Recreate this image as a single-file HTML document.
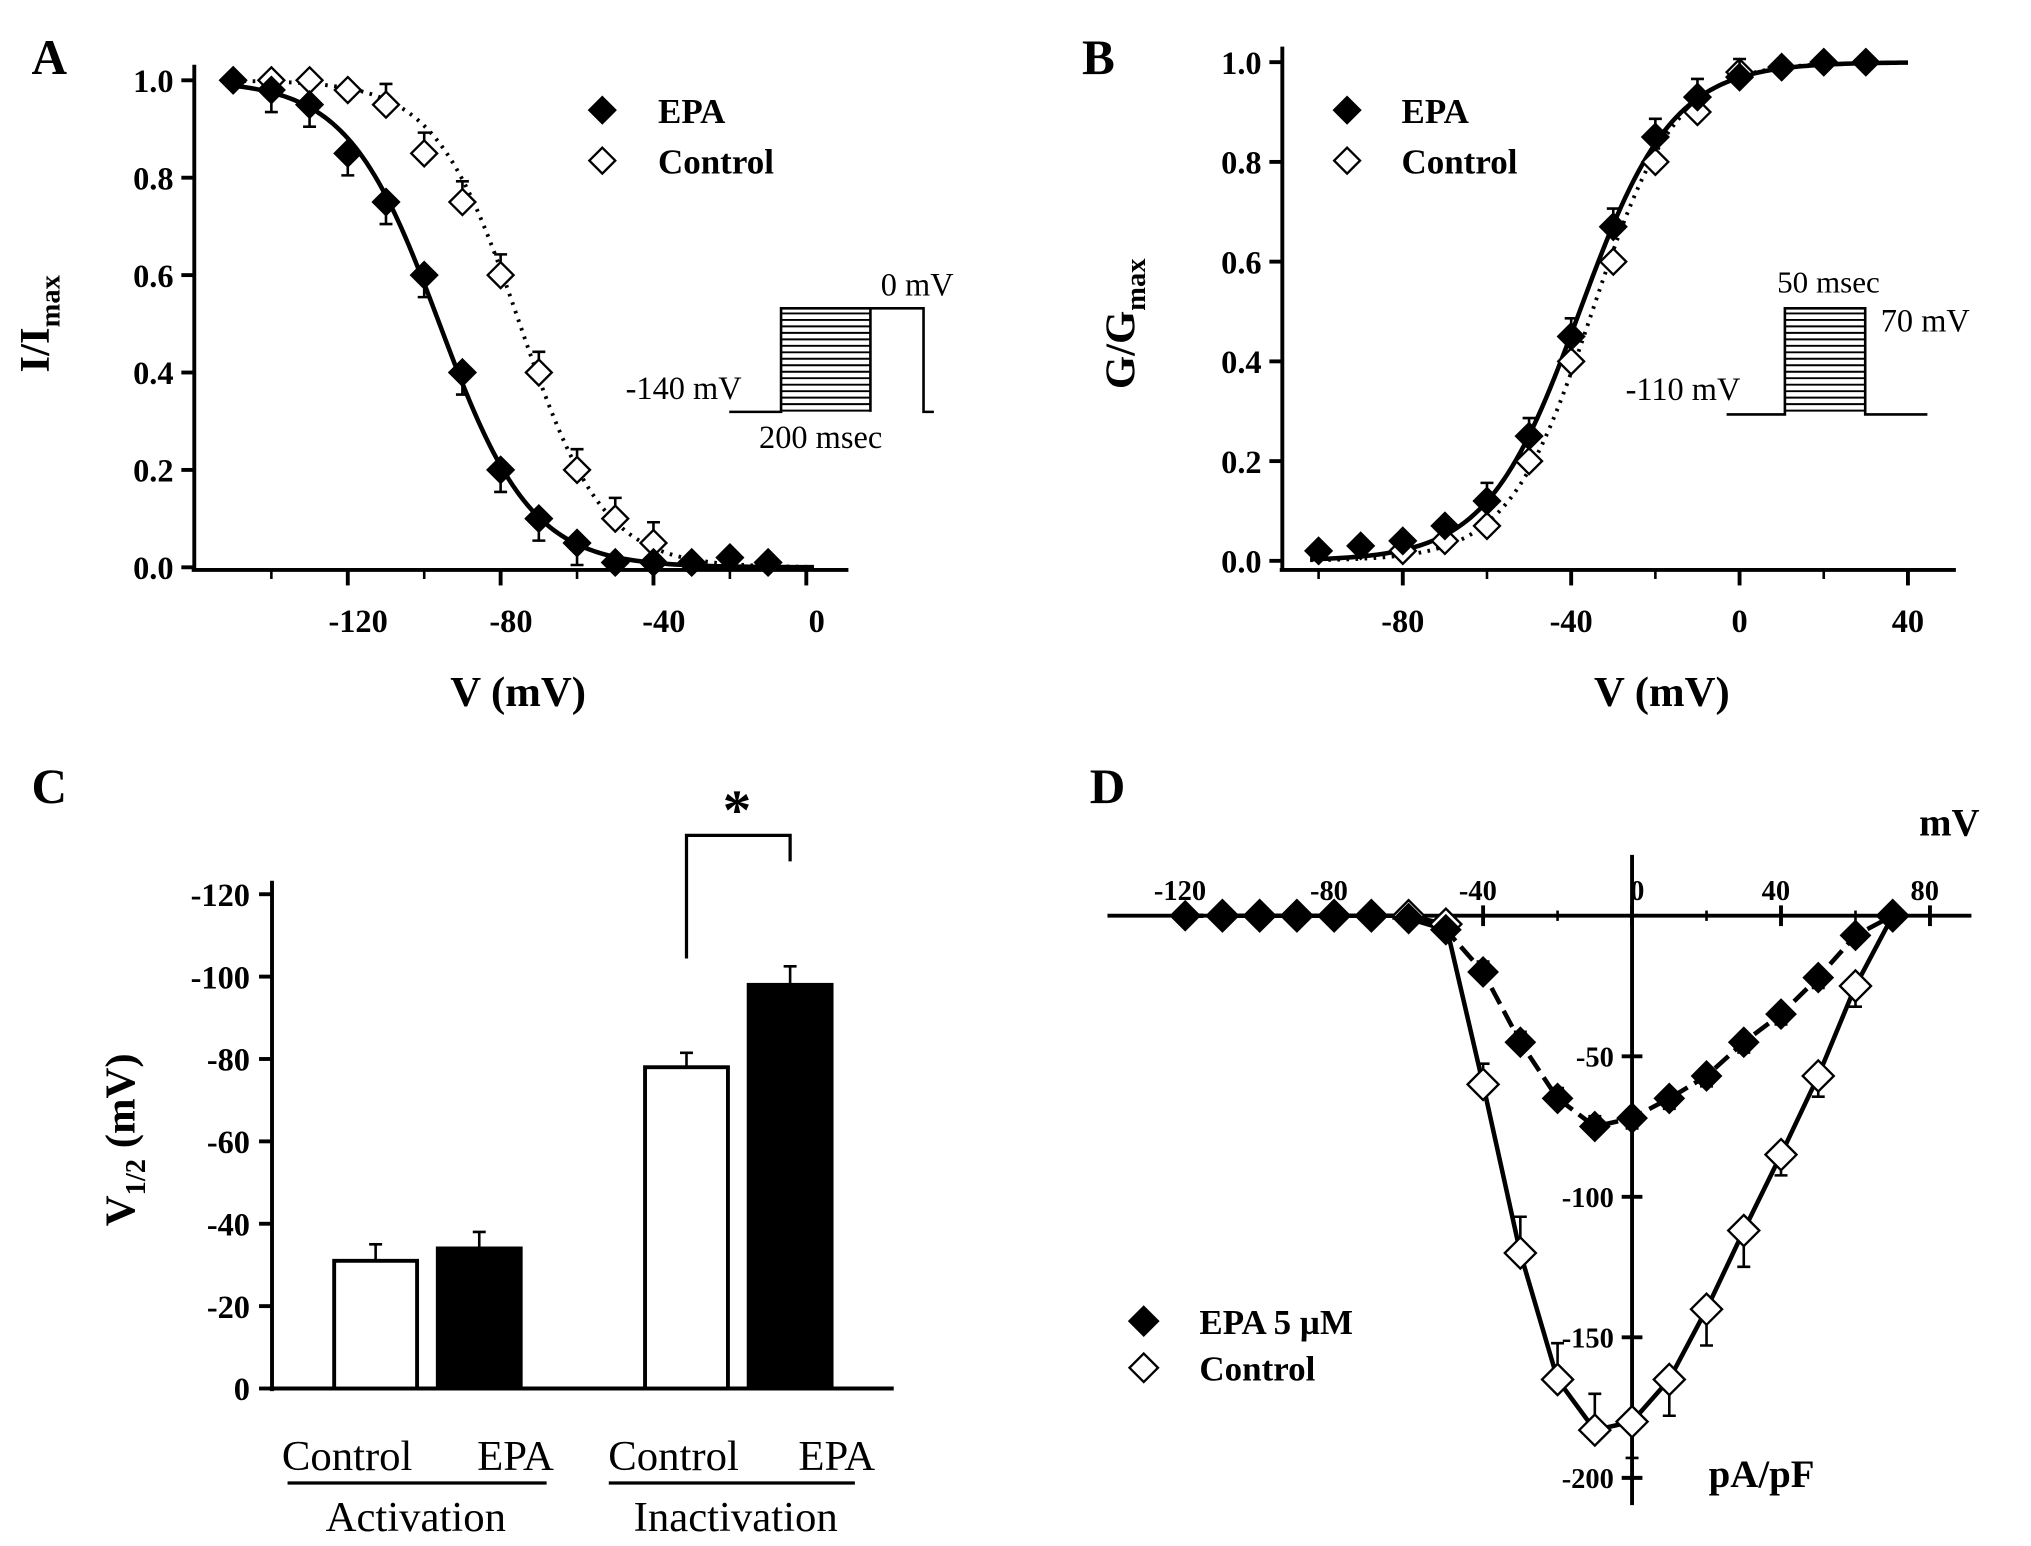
<!DOCTYPE html>
<html><head><meta charset="utf-8"><style>
html,body{margin:0;padding:0;background:#fff}
svg{display:block}
text{font-family:"Liberation Serif","DejaVu Serif",serif;fill:#000}
.b{font-weight:bold}
</style></head><body>
<svg id="fig" width="2031" height="1546" viewBox="0 0 1568 1193.6" preserveAspectRatio="none" xmlns="http://www.w3.org/2000/svg">
<g id="root"></g>
</svg>
<script>
// Panel A data
const aV=[-150,-140,-130,-120,-110,-100,-90,-80,-70,-60,-50,-40,-30,-20,-10];
const aEPA=[1.0,0.98,0.95,0.85,0.75,0.6,0.4,0.2,0.1,0.05,0.01,0.01,0.01,0.02,0.01];
const aCtlV=[-140,-130,-120,-110,-100,-90,-80,-70,-60,-50,-40];
const aCtl=[1.0,1.0,0.98,0.95,0.85,0.75,0.6,0.4,0.2,0.1,0.05];
const aXTicks=[-120,-80,-40,0];
const aYTicks=[0,0.2,0.4,0.6,0.8,1.0];
// Panel B data
const bV=[-100,-90,-80,-70,-60,-50,-40,-30,-20,-10,0,10,20,30];
const bEPA=[0.02,0.03,0.04,0.07,0.12,0.25,0.45,0.67,0.85,0.93,0.97,0.99,1.0,1.0];
const bCtlV=[-80,-70,-60,-50,-40,-30,-20,-10,0];
const bCtl=[0.02,0.04,0.07,0.2,0.4,0.6,0.8,0.9,0.98];
const bXTicks=[-80,-40,0,40];
const bYTicks=[0,0.2,0.4,0.6,0.8,1.0];
// Panel C data
const cVals=[31,34,78,98];
const cErr=[4,4,3.5,4.5];
const cFill=['#fff','#000','#fff','#000'];
const cYTicks=[0,-20,-40,-60,-80,-100,-120];
// Panel D data
const dV=[-120,-110,-100,-90,-80,-70,-60,-50,-40,-30,-20,-10,0,10,20,30,40,50,60,70];
const dEPA=[0,0,0,0,0,0,-1,-5,-20,-45,-65,-75,-72,-65,-57,-45,-35,-22,-7,0];
const dCtlV=[-110,-100,-90,-80,-70,-60,-50,-40,-30,-20,-10,0,10,20,30,40,50,60,70];
const dCtl=[0,0,0,0,0,0,-3,-60,-120,-165,-183,-180,-165,-140,-112,-85,-57,-25,0];
const dXTicks=[-120,-80,-40,0,40,80];
const dYTicks=[-50,-100,-150,-200];

const NS='http://www.w3.org/2000/svg';
const root=document.getElementById('root');
function el(tag,attrs,parent,txt){const e=document.createElementNS(NS,tag);for(const k in attrs)e.setAttribute(k,attrs[k]);if(txt!==undefined)e.textContent=txt;(parent||root).appendChild(e);return e;}
function T(x,y,s,size,anchor,name,bold){const t=el('text',{x:x,y:y,'font-size':size,'text-anchor':anchor||'middle'},null,s);if(bold!==false)t.setAttribute('class','b');

return t;}
function L(x1,y1,x2,y2,w,name,dash){const l=el('line',{x1:x1,y1:y1,x2:x2,y2:y2,stroke:'#000','stroke-width':w||3});if(dash)l.setAttribute('stroke-dasharray',dash);

return l;}
function diamond(x,y,r,filled,name){const p=el('polygon',{points:`${x},${y-r} ${x+r},${y} ${x},${y+r} ${x-r},${y}`,fill:filled?'#000':'#fff',stroke:'#000','stroke-width':1.8});

return p;}
function errbar(x,y1,y2,name){const g=el('path',{d:`M${x},${y1}L${x},${y2}M${x-5},${y2}L${x+5},${y2}`,stroke:'#000','stroke-width':2,fill:'none'});

}
function curve(pts,dash,w,name){const p=el('path',{d:'M'+pts.map(p=>p.join(',')).join('L'),fill:'none',stroke:'#000','stroke-width':w});if(dash)p.setAttribute('stroke-dasharray',dash);

}
const boltz=(v,h,k)=>1/(1+Math.exp((v-h)/k));

// ---------- Panel A ----------
const ax=v=>180+2.95*(v+150), ay=f=>438-376*f;
T(38,57,'A',38,'middle','panel-a-label');
L(150,50,150,441,3,'a-y-axis');L(148,440,655,440,3,'a-x-axis');
aYTicks.forEach(t=>{L(140,ay(t),150,ay(t),3,'a-y-tick');T(134,ay(t)+9,t.toFixed(1),25,'end','a-y-tick-label');});
aXTicks.forEach(t=>{L(ax(t),440,ax(t),452,3,'a-x-tick');T(ax(t)+8,488,t,25,'middle','a-x-tick-label');});
[-140,-100,-60,-20].forEach(t=>L(ax(t),440,ax(t),447,2,'a-x-minor-tick'));
T(400,545,'V (mV)',33,'middle','a-x-axis-title');
const yt=el('text',{transform:'translate(38,250) rotate(-90)','font-size':33,'text-anchor':'middle',class:'b'});


yt.innerHTML='I/I<tspan font-size="22" dy="8">max</tspan>';
let pts=[];for(let v=-152;v<=2;v+=1)pts.push([ax(v),ay(boltz(v,-96,12))]);curve(pts,null,3.5,'a-epa-fit');
pts=[];for(let v=-152;v<=2;v+=1)pts.push([ax(v),ay(boltz(v,-75,11))]);curve(pts,'2,5',3,'a-control-fit');
aCtlV.forEach((v,i)=>{if(aCtl[i]<0.97)errbar(ax(v),ay(aCtl[i]),ay(aCtl[i])-16,'a-control-error');diamond(ax(v),ay(aCtl[i]),10,false,'a-control-point');});
aV.forEach((v,i)=>{if(aEPA[i]<0.99&&aEPA[i]>0.03)errbar(ax(v),ay(aEPA[i]),ay(aEPA[i])+17,'a-epa-error');diamond(ax(v),ay(aEPA[i]),10,true,'a-epa-point');});
diamond(465,85,10,true,'a-legend-epa-marker');T(508,95,'EPA',27,'start','a-legend-epa');
diamond(465,124,10,false,'a-legend-control-marker');T(508,134,'Control',27,'start','a-legend-control');
// protocol inset A
el('path',{d:'M563,318L603,318L603,238L672,238L672,318M672,238L713,238L713,318L721,318',fill:'none',stroke:'#000','stroke-width':2});
for(let y=242;y<318;y+=5)L(603,y,672,y,1.5,'a-protocol-step');
T(680,228,'0 mV',25,'start','a-protocol-0mv',false);
T(483,308,'-140 mV',25,'start','a-protocol-140mv',false);
T(586,346,'200 msec',25,'start','a-protocol-200msec',false);

// ---------- Panel B ----------
const bx=v=>1343+3.25*v, by=f=>433-385*f;
T(848,57,'B',38,'middle','panel-b-label');
L(990,36,990,441,3,'b-y-axis');L(988,440,1510,440,3,'b-x-axis');
bYTicks.forEach(t=>{L(980,by(t),990,by(t),3,'b-y-tick');T(974,by(t)+9,t.toFixed(1),25,'end','b-y-tick-label');});
bXTicks.forEach(t=>{L(bx(t),440,bx(t),452,3,'b-x-tick');T(bx(t),488,t,25,'middle','b-x-tick-label');});
[-100,-60,-20,20].forEach(t=>L(bx(t),440,bx(t),447,2,'b-x-minor-tick'));
T(1283,545,'V (mV)',33,'middle','b-x-axis-title');
const yt2=el('text',{transform:'translate(876,250) rotate(-90)','font-size':33,'text-anchor':'middle',class:'b'});


yt2.innerHTML='G/G<tspan font-size="22" dy="8">max</tspan>';
pts=[];for(let v=-102;v<=40;v+=1)pts.push([bx(v),by(1-boltz(v,-38,11))]);curve(pts,null,3.5,'b-epa-fit');
pts=[];for(let v=-102;v<=40;v+=1)pts.push([bx(v),by(1-boltz(v,-35,10))]);curve(pts,'2,5',3,'b-control-fit');
bCtlV.forEach((v,i)=>{diamond(bx(v),by(bCtl[i]),10,false,'b-control-point');});
bV.forEach((v,i)=>{if(bEPA[i]>0.1&&bEPA[i]<0.99)errbar(bx(v),by(bEPA[i]),by(bEPA[i])-14,'b-epa-error');diamond(bx(v),by(bEPA[i]),10,true,'b-epa-point');});
diamond(1040,85,10,true,'b-legend-epa-marker');T(1082,95,'EPA',27,'start','b-legend-epa');
diamond(1040,124,10,false,'b-legend-control-marker');T(1082,134,'Control',27,'start','b-legend-control');
el('path',{d:'M1333,320L1378,320L1378,238L1440,238L1440,320L1488,320',fill:'none',stroke:'#000','stroke-width':2});
for(let y=242;y<320;y+=5)L(1378,y,1440,y,1.5,'b-protocol-step');
T(1372,226,'50 msec',24,'start','b-protocol-50msec',false);
T(1452,256,'70 mV',25,'start','b-protocol-70mv',false);
T(1255,309,'-110 mV',25,'start','b-protocol-110mv',false);

// ---------- Panel C ----------
const cy=v=>1072-3.18*v;
const cx=[258,338,498,578];
T(38,620,'C',38,'middle','panel-c-label');
L(210,680,210,1074,3,'c-y-axis');L(208,1072,690,1072,3,'c-baseline');
cYTicks.forEach(t=>{L(200,cy(-t),210,cy(-t),3,'c-y-tick');T(193,cy(-t)+9,t,25,'end','c-y-tick-label');});
const yt3=el('text',{transform:'translate(104,880) rotate(-90)','font-size':33,'text-anchor':'middle',class:'b'});


yt3.innerHTML='V<tspan font-size="22" dy="8">1/2</tspan><tspan dy="-8"> (mV)</tspan>';
cVals.forEach((v,i)=>{
 errbar(cx[i]+32,cy(v),cy(v+cErr[i]),'c-error-bar');
 const r=el('rect',{x:cx[i],y:cy(v),width:64,height:1072-cy(v),fill:cFill[i],stroke:'#000','stroke-width':3});
 
 
});
el('path',{d:'M530,740L530,645L610,645L610,665',fill:'none',stroke:'#000','stroke-width':2.5});
T(569,640,'*',44,'middle','c-significance-star');
T(268,1135,'Control',33,'middle','c-label-control-act',false);T(398,1135,'EPA',33,'middle','c-label-epa-act',false);
L(222,1145,422,1145,2.5,'c-group-line-act');T(321,1182,'Activation',33,'middle','c-group-activation',false);
T(520,1135,'Control',33,'middle','c-label-control-inact',false);T(646,1135,'EPA',33,'middle','c-label-epa-inact',false);
L(470,1145,660,1145,2.5,'c-group-line-inact');T(568,1182,'Inactivation',33,'middle','c-group-inactivation',false);

// ---------- Panel D ----------
const dx=v=>1260+2.875*v, dy=v=>707-2.17*v;
T(855,620,'D',38,'middle','panel-d-label');
L(855,707,1522,707,3,'d-x-axis');L(1260,660,1260,1162,3,'d-y-axis');
dXTicks.forEach(t=>{L(dx(t),699,dx(t),715,3,'d-x-tick');T(dx(t)-(t===0?-4:4),695,t,22,'middle','d-x-tick-label');});
[-100,-60,-20,20,60].forEach(t=>L(dx(t),703,dx(t),711,2,'d-x-minor-tick'));
dYTicks.forEach(t=>{L(1252,dy(t),1268,dy(t),3,'d-y-tick');T(1246,dy(t)+8,t,22,'end','d-y-tick-label');});
T(1505,645,'mV',30,'middle','d-x-axis-title');
T(1360,1148,'pA/pF',30,'middle','d-y-axis-title');
curve(dCtlV.map((v,i)=>[dx(v),dy(dCtl[i])]),null,3.5,'d-control-line');
curve(dV.map((v,i)=>[dx(v),dy(dEPA[i])]),'14,6',3.5,'d-epa-line');
dCtlV.forEach((v,i)=>{if(dCtl[i]<-20)errbar(dx(v),dy(dCtl[i]),dy(dCtl[i])+(v<0?-20:20)*(dCtl[i]<-100?1.4:0.8),'d-control-error');diamond(dx(v),dy(dCtl[i]),12,false,'d-control-point');});
dV.forEach((v,i)=>{if(dEPA[i]<-15)errbar(dx(v),dy(dEPA[i]),dy(dEPA[i])+(v<0?-8:8),'d-epa-error');diamond(dx(v),dy(dEPA[i]),11,true,'d-epa-point');});
diamond(883,1020,11,true,'d-legend-epa-marker');T(926,1030,'EPA 5 µM',27,'start','d-legend-epa');
diamond(883,1056,11,false,'d-legend-control-marker');T(926,1066,'Control',27,'start','d-legend-control');
</script>
</body></html>
